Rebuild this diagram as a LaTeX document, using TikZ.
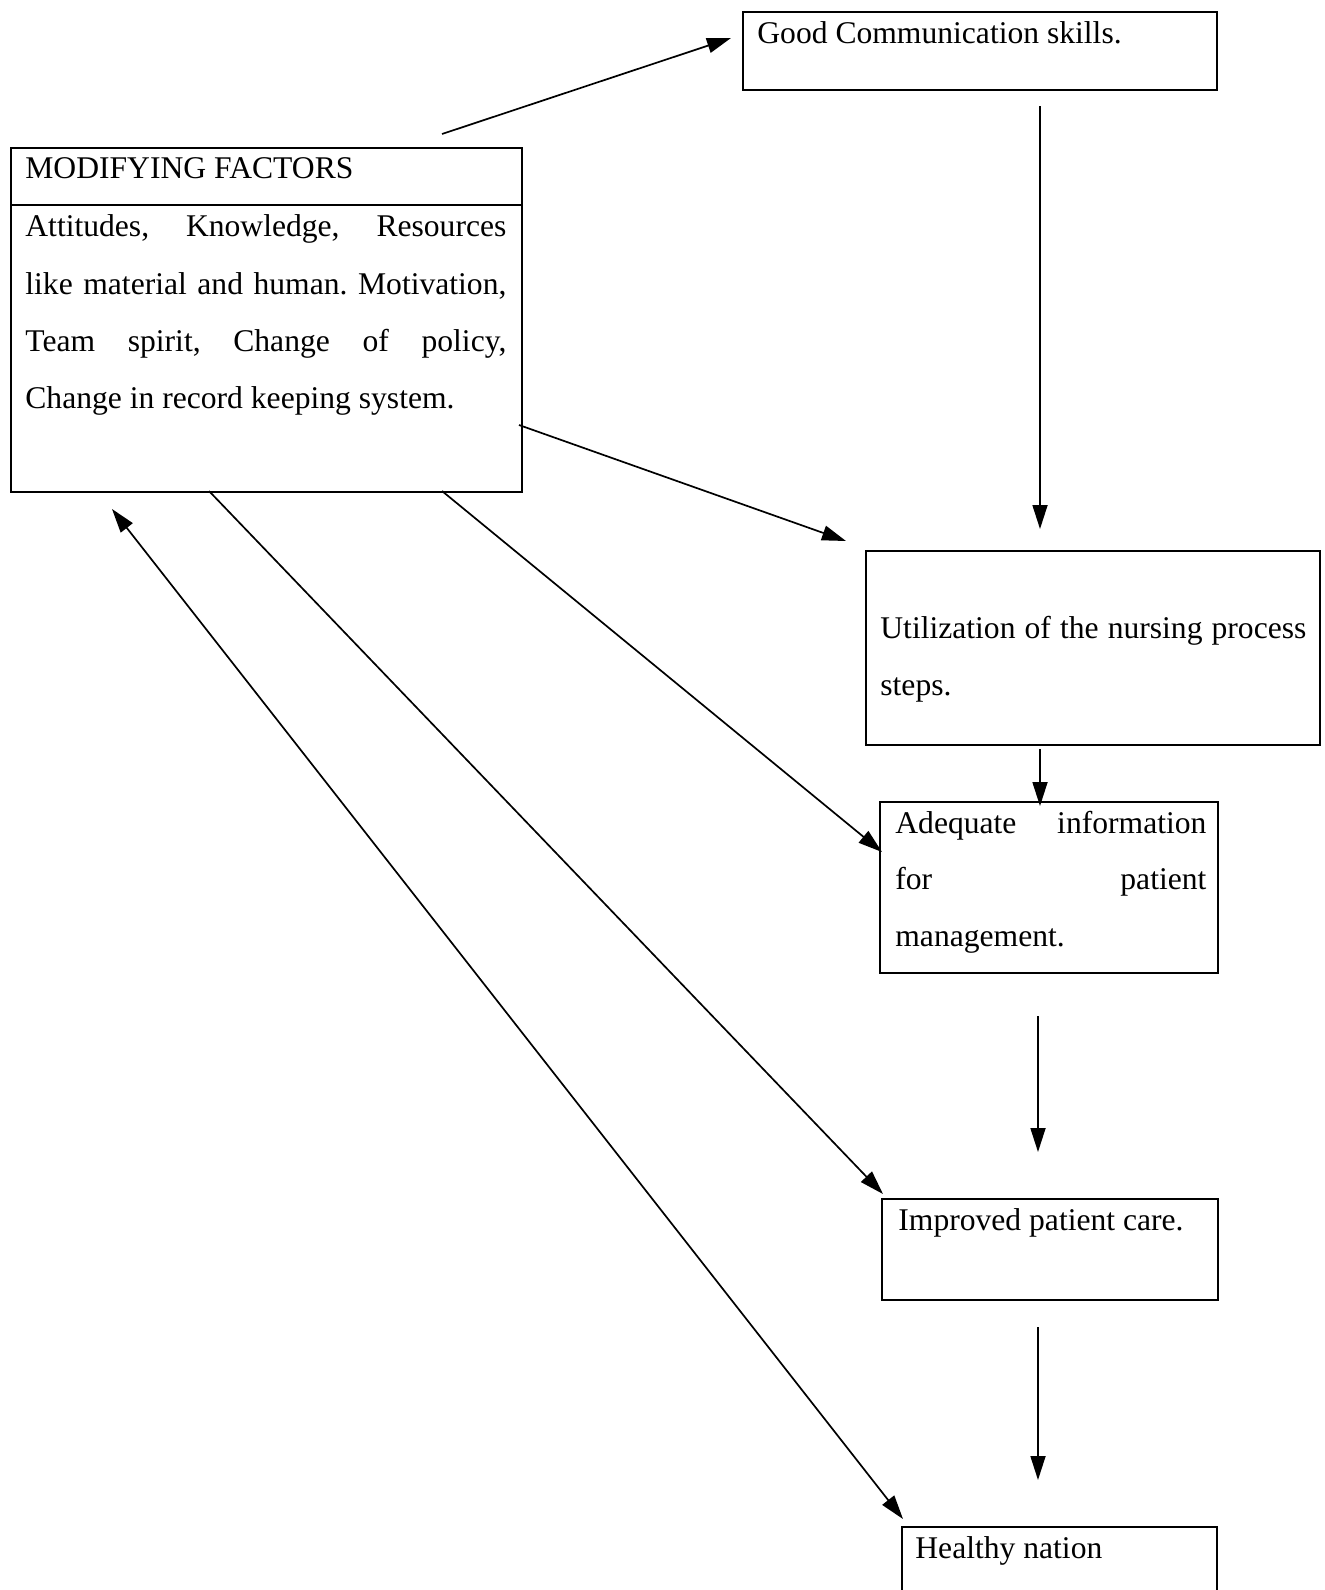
\documentclass[tikz,border=0pt]{standalone}
\usepackage{fontspec}
\setmainfont{Liberation Serif}
\usetikzlibrary{arrows.meta}
\frenchspacing
\begin{document}
\begin{tikzpicture}[x=0.5pt,y=-0.5pt,
  box/.style={draw, line width=0.75pt, inner sep=0pt, anchor=north west},
  txt/.style={anchor=base west, inner sep=0pt, font=\fontsize{15.8}{28.9}\selectfont},
  arr/.style={line width=0.85pt, -{Triangle[length=12pt,width=7.5pt]}},
  darr/.style={line width=0.85pt, {Triangle[length=12pt,width=7.5pt]}-{Triangle[length=12pt,width=7.5pt]}},
]
\useasboundingbox (0,0) rectangle (1324,1590);
\clip (0,0) rectangle (1324,1590);
\fill[white] (0,0) rectangle (1324,1590);

% boxes
\node[box, minimum width=237pt, minimum height=39pt] (gc) at (742,11) {};
\node[box, minimum width=255.5pt, minimum height=172pt] (mf) at (10,147) {};
\node[box, minimum width=227pt, minimum height=97pt] (un) at (865,550) {};
\node[box, minimum width=169pt, minimum height=85.5pt] (ai) at (879,801) {};
\node[box, minimum width=168pt, minimum height=50.5pt] (ip) at (881,1198) {};
\node[box, minimum width=157.5pt, minimum height=60pt] (hn) at (901,1526) {};
\coordinate (dv) at (0,205);
\draw[line width=0.75pt] (mf.west |- dv) -- (mf.east |- dv);

% texts
\node[txt] (tgc) at (757,43) {Good Communication skills.};
\node[txt] (tmf) at (25,178) {MODIFYING FACTORS};
\node[txt] (tb1) at (25,236) {\makebox[240.5pt][s]{Attitudes, Knowledge, Resources}};
\node[txt] (tb2) at (25,294) {\makebox[240.5pt][s]{like material and human. Motivation,}};
\node[txt] (tb3) at (25,351) {\makebox[240.5pt][s]{Team spirit, Change of policy,}};
\node[txt] (tb4) at (25,408) {Change in record keeping system.};
\node[txt] (tu1) at (880,638) {\makebox[213pt][s]{Utilization of the nursing process}};
\node[txt] (tu2) at (880,695) {steps.};
\node[txt] (ta1) at (895,833) {\makebox[155.5pt][s]{Adequate information}};
\node[txt] (ta2) at (895,889) {\makebox[155.5pt][s]{for patient}};
\node[txt] (ta3) at (895,946) {management.};
\node[txt] (tip) at (898,1230) {Improved patient care.};
\node[txt] (thn) at (915,1558) {Healthy nation};

% arrow end points
\coordinate (a1s) at (442,134);
\coordinate (a1e) at (731,38);
\coordinate (a2s) at (1040,106);
\coordinate (a2e) at (1040,529);
\coordinate (a3s) at (519,425);
\coordinate (a3e) at (846,541);
\coordinate (a4s) at (442,491);
\coordinate (a4e) at (882,852);
\coordinate (a5s) at (1040,749);
\coordinate (a5e) at (1040,806);
\coordinate (a6s) at (209,491);
\coordinate (a6e) at (883,1194);
\coordinate (a7s) at (1038,1016);
\coordinate (a7e) at (1038,1152);
\coordinate (a8s) at (112,509);
\coordinate (a8e) at (903,1519);
\coordinate (a9s) at (1038,1327);
\coordinate (a9e) at (1038,1480);

\draw[arr] (a1s) -- (a1e);
\draw[arr] (a2s) -- (a2e);
\draw[arr] (a3s) -- (a3e);
\draw[arr] (a4s) -- (a4e);
\draw[arr] (a5s) -- (a5e);
\draw[arr] (a6s) -- (a6e);
\draw[arr] (a7s) -- (a7e);
\draw[darr] (a8s) -- (a8e);
\draw[arr] (a9s) -- (a9e);
\end{tikzpicture}
\end{document}
